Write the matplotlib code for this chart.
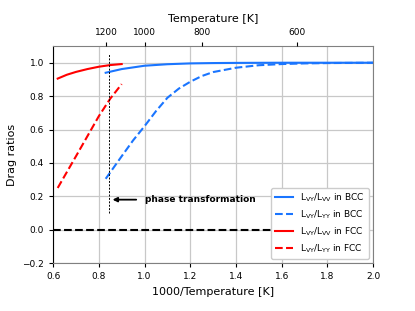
import numpy as np
import matplotlib.pyplot as plt

# BCC curves (x = 1000/T)
x_bcc_vv = [0.83, 0.9, 1.0, 1.1, 1.2, 1.3, 1.4, 1.6, 1.8, 2.0]
y_bcc_vv = [0.94, 0.962, 0.982, 0.991, 0.996, 0.998, 0.999, 1.0, 1.0, 1.0]
x_bcc_yy = [0.83, 0.9, 0.95, 1.0, 1.05, 1.1, 1.15, 1.2, 1.25, 1.3, 1.4, 1.5, 1.6, 1.7, 1.8, 2.0]
y_bcc_yy = [0.305, 0.44, 0.535, 0.62, 0.71, 0.79, 0.845, 0.886, 0.92, 0.944, 0.97,
            0.985, 0.992, 0.996, 0.998, 1.0]

# FCC curves
x_fcc = [0.62, 0.66, 0.70, 0.75, 0.80, 0.85, 0.90]
y_fcc_vv = [0.905, 0.928, 0.945, 0.962, 0.976, 0.986, 0.992]
y_fcc_yy = [0.25, 0.345, 0.44, 0.56, 0.68, 0.785, 0.872]

temps = [1200, 1000, 800, 600]
x_trans = 0.845

blue = '#1a75ff'
lab_vv = r'$\mathrm{L_{VY}/L_{VV}}$'
lab_yy = r'$\mathrm{L_{VY}/L_{YY}}$'

fig = plt.figure(figsize=(4.15, 3.11), dpi=100)
ax = fig.add_axes([0.128, 0.154, 0.771, 0.698])

ax.plot(x_bcc_vv, y_bcc_vv, '-', color=blue, lw=1.5, label=lab_vv + ' in BCC')
ax.plot(x_bcc_yy, y_bcc_yy, '--', color=blue, lw=1.5, label=lab_yy + ' in BCC')
ax.plot(x_fcc, y_fcc_vv, '-', color='red', lw=1.5, label=lab_vv + ' in FCC')
ax.plot(x_fcc, y_fcc_yy, '--', color='red', lw=1.5, label=lab_yy + ' in FCC')

ax.axhline(0, color='k', ls='--', lw=1.5)
ax.plot([x_trans, x_trans], [0.1, 1.05], 'k--', lw=0.7, dashes=(2, 1.5))
ax.annotate('phase transformation', xy=(0.86, 0.18), xytext=(1.0, 0.18),
            fontsize=6.5, fontweight='bold', va='center',
            arrowprops=dict(arrowstyle='-|>', color='k', lw=1.3, shrinkA=4, shrinkB=0))

ax.set_xlim(0.6, 2.0)
ax.set_ylim(-0.2, 1.1)
ax.set_xticks(np.arange(0.6, 2.01, 0.2))
ax.set_yticks(np.arange(-0.2, 1.01, 0.2))
ax.grid(True, color='#c8c8c8', lw=0.9)
ax.tick_params(labelsize=6.5, length=3)
ax.set_xlabel('1000/Temperature [K]', fontsize=8)
ax.set_ylabel('Drag ratios', fontsize=8)
ax.legend(loc='lower right', fontsize=6.5, framealpha=1)

for s in ['top', 'right', 'bottom']:
    ax.spines[s].set_color('#808080')
ax.spines['left'].set_color('k')

ax2 = ax.twiny()
ax2.set_xlim(ax.get_xlim())
ax2.set_xticks([1000 / t for t in temps])
ax2.set_xticklabels([str(t) for t in temps])
ax2.tick_params(labelsize=6.5, length=3)
ax2.set_xlabel('Temperature [K]', fontsize=8)
for s in ax2.spines.values():
    s.set_visible(False)

fig.savefig('out.png', dpi=100)
